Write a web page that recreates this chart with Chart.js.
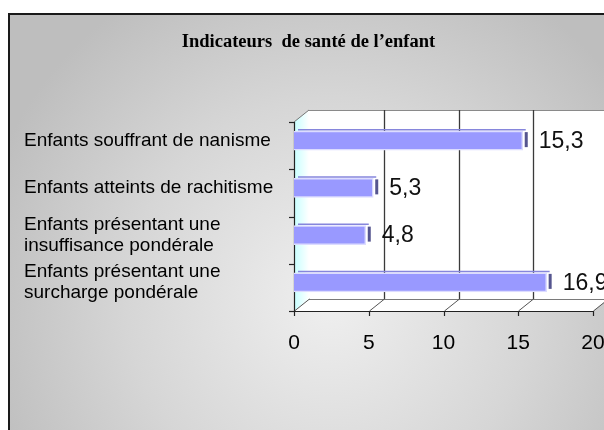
<!DOCTYPE html>
<html>
<head>
<meta charset="utf-8">
<script src="https://cdn.jsdelivr.net/npm/chart.js@4/dist/chart.umd.min.js"></script>
<style>
html,body{margin:0;padding:0;background:#fff;}
canvas{display:block;}
</style>
</head>
<body>
<canvas id="c" width="604" height="430"></canvas>
<script>
const titleText = "Indicateurs  de santé de l\u2019enfant";
const categories = [
  ["Enfants souffrant de nanisme"],
  ["Enfants atteints de rachitisme"],
  ["Enfants présentant une", "insuffisance pondérale"],
  ["Enfants présentant une", "surcharge pondérale"]
];
const values = [15.3, 5.3, 4.8, 16.9];
const xMin = 0, xMax = 20, xStep = 5;

const FRONT_DY = 5;      // front plane offset from scale (y)
const BACK_DX = 15, BACK_DY = -7;

const fmt = v => String(v).replace('.', ',');

const frame3d = {
  id: 'frame3d',
  beforeDraw(chart) {
    const ctx = chart.ctx;
    const W = chart.width, H = chart.height;
    ctx.save();
    ctx.fillStyle = '#ffffff';
    ctx.fillRect(0, 0, W, H);
    const g = ctx.createRadialGradient(330, 300, 10, 330, 300, 360);
    g.addColorStop(0, '#eeeeee');
    g.addColorStop(0.55, '#d6d6d6');
    g.addColorStop(1, '#bebebe');
    ctx.fillStyle = g;
    ctx.fillRect(9, 14, W, H);
    ctx.strokeStyle = '#1a1a1a';
    ctx.lineWidth = 2;
    ctx.beginPath();
    ctx.moveTo(9, H + 5); ctx.lineTo(9, 14); ctx.lineTo(W + 5, 14);
    ctx.stroke();

    const xs = chart.scales.x;
    const ca = chart.chartArea;
    const L = xs.getPixelForValue(xMin), R = xs.getPixelForValue(xMax);
    const fT = ca.top + FRONT_DY, fB = ca.bottom + FRONT_DY;
    const bT = ca.top + BACK_DY, bB = ca.bottom + BACK_DY;

    ctx.fillStyle = '#ffffff';
    ctx.fillRect(L + BACK_DX, bT, R - L, bB - bT);
    ctx.strokeStyle = '#8a8a8a';
    ctx.lineWidth = 1;
    ctx.beginPath();
    ctx.moveTo(L + BACK_DX, bT + 0.5); ctx.lineTo(R + BACK_DX + 2, bT + 0.5);
    ctx.stroke();

    const lg = ctx.createLinearGradient(L, 0, L + BACK_DX, 0);
    lg.addColorStop(0, '#c6ffff');
    lg.addColorStop(0.6, '#e8ffff');
    lg.addColorStop(1, '#ffffff');
    ctx.fillStyle = lg;
    ctx.beginPath();
    ctx.moveTo(L, fT); ctx.lineTo(L + BACK_DX, bT); ctx.lineTo(L + BACK_DX, bB); ctx.lineTo(L, fB);
    ctx.closePath(); ctx.fill();

    ctx.fillStyle = '#ffffff';
    ctx.beginPath();
    ctx.moveTo(L, fB); ctx.lineTo(L + BACK_DX, bB); ctx.lineTo(R + BACK_DX, bB); ctx.lineTo(R, fB);
    ctx.closePath(); ctx.fill();
    ctx.strokeStyle = '#7a7a7a';
    ctx.beginPath();
    ctx.moveTo(L + BACK_DX, bB + 0.5); ctx.lineTo(R + BACK_DX, bB + 0.5);
    ctx.stroke();

    for (let v = xMin; v <= xMax; v += xStep) {
      const px = Math.round(xs.getPixelForValue(v)) + 0.5;
      if (v > xMin && v < xMax) {
        ctx.strokeStyle = '#3a3a3a';
        ctx.lineWidth = 1.3;
        ctx.beginPath();
        ctx.moveTo(px + BACK_DX, bT); ctx.lineTo(px + BACK_DX, bB);
        ctx.stroke();
      }
      ctx.strokeStyle = '#555555';
      ctx.lineWidth = 1;
      ctx.beginPath();
      ctx.moveTo(px, fB); ctx.lineTo(px + BACK_DX, bB);
      ctx.stroke();
    }
    ctx.strokeStyle = '#777777';
    ctx.beginPath();
    ctx.moveTo(L, fT); ctx.lineTo(L + BACK_DX, bT);
    ctx.stroke();

    ctx.strokeStyle = '#222222';
    ctx.lineWidth = 1.2;
    ctx.beginPath();
    ctx.moveTo(Math.round(L) + 0.5, fT); ctx.lineTo(Math.round(L) + 0.5, fB + 0.5);
    ctx.lineTo(R + 1, fB + 0.5);
    ctx.stroke();
    const n = categories.length;
    for (let i = 0; i <= n; i++) {
      const yy = Math.round(ca.top + (ca.bottom - ca.top) * i / n + FRONT_DY) + 0.5;
      ctx.beginPath(); ctx.moveTo(L - 5, yy); ctx.lineTo(L, yy); ctx.stroke();
    }
    for (let v = xMin; v <= xMax; v += xStep) {
      const px = Math.round(xs.getPixelForValue(v)) + 0.5;
      ctx.beginPath(); ctx.moveTo(px, fB); ctx.lineTo(px, fB + 5); ctx.stroke();
    }
    ctx.restore();
  },
  afterDatasetsDraw(chart) {
    const ctx = chart.ctx;
    const meta = chart.getDatasetMeta(0);
    ctx.save();
    meta.data.forEach((bar, i) => {
      const h = bar.height;
      const top = bar.y - h / 2;
      ctx.strokeStyle = '#8686dc';
      ctx.lineWidth = 1.5;
      ctx.beginPath();
      ctx.moveTo(bar.base + 4, top - 1.5); ctx.lineTo(bar.x + 3, top - 1.5);
      ctx.stroke();
      ctx.fillStyle = '#55558f';
      ctx.fillRect(bar.x + 2, top + 1, 3, h - 4);
      ctx.fillStyle = '#111111';
      ctx.font = '23px "Liberation Sans", Arial, sans-serif';
      ctx.textAlign = 'left';
      ctx.textBaseline = 'middle';
      ctx.fillText(fmt(values[i]), bar.x + 16, bar.y + 1);
    });
    ctx.restore();
  }
};

new Chart(document.getElementById('c'), {
  type: 'bar',
  data: {
    labels: categories,
    datasets: [{
      data: values,
      backgroundColor: '#9999ff',
      borderColor: '#dcdcff',
      borderWidth: 1.5,
      barThickness: 19,
      borderSkipped: 'left'
    }]
  },
  options: {
    indexAxis: 'y',
    responsive: false,
    devicePixelRatio: 1,
    animation: false,
    layout: { padding: { left: 24, right: 11, top: 0, bottom: 0 } },
    plugins: {
      legend: { display: false },
      tooltip: { enabled: false },
      title: {
        display: true,
        text: titleText,
        color: '#000',
        font: { family: '"Liberation Serif", "Times New Roman", serif', size: 18.5, weight: 'bold', lineHeight: 1.2 },
        padding: { top: 31, bottom: 63.8 }
      }
    },
    scales: {
      x: {
        min: xMin, max: xMax,
        grid: { display: false, drawTicks: false },
        border: { display: false },
        ticks: {
          stepSize: xStep,
          padding: 25,
          color: '#000',
          font: { family: '"Liberation Sans", Arial, sans-serif', size: 21 },
          maxRotation: 0,
          callback: v => fmt(v)
        },
        afterFit(s) { s.height = 124; s.paddingLeft = 0; s.paddingRight = 0; }
      },
      y: {
        grid: { display: false, drawTicks: false },
        border: { display: false },
        ticks: {
          crossAlign: 'far',
          padding: 0,
          color: '#000',
          font: { family: '"Liberation Sans", Arial, sans-serif', size: 19, lineHeight: 1.1 }
        },
        afterFit(s) { s.width = 270; s.paddingTop = 0; s.paddingBottom = 0; }
      }
    }
  },
  plugins: [frame3d]
});
</script>
</body>
</html>
